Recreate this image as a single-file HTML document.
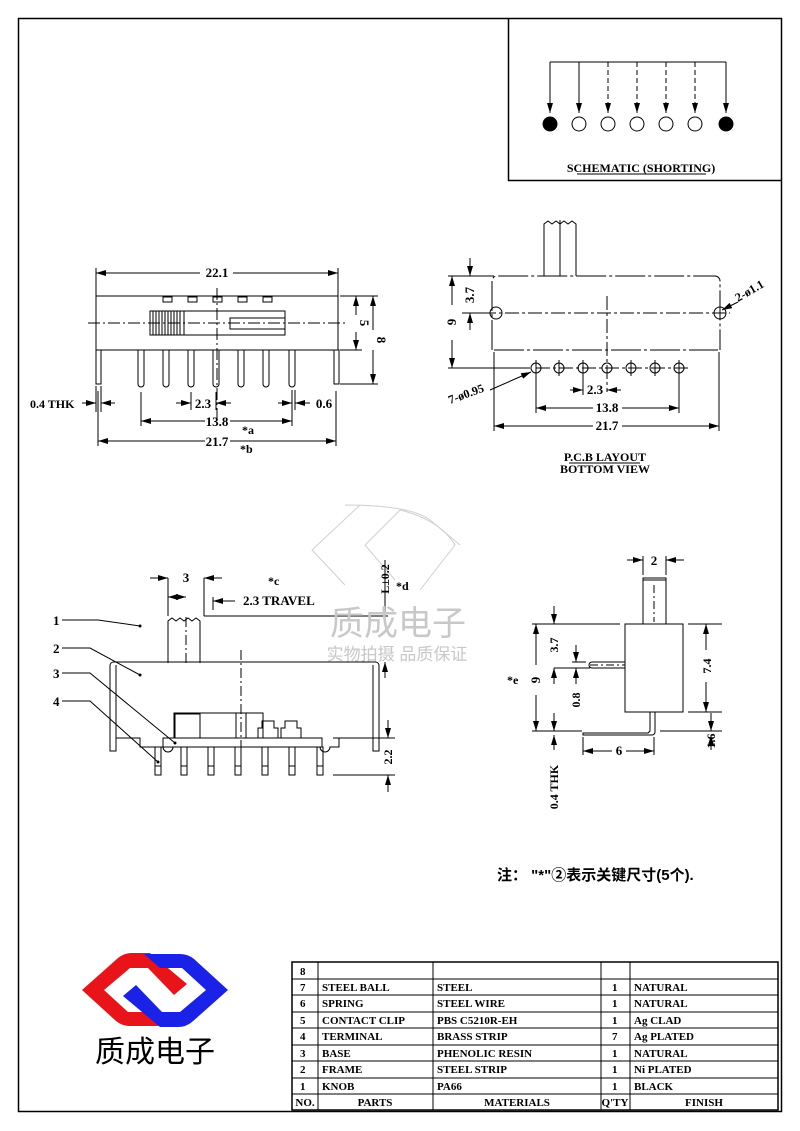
<!DOCTYPE html>
<html><head><meta charset="utf-8"><style>
html,body{margin:0;padding:0;background:#fff;}
svg{display:block;}
text{font-family:"Liberation Serif","Noto Serif CJK SC",serif;font-weight:bold;fill:#000;}
.c{font-family:"Liberation Sans","Noto Sans CJK SC",sans-serif;}
</style></head><body>
<svg width="800" height="1131" viewBox="0 0 800 1131" xmlns="http://www.w3.org/2000/svg">
<defs>
<marker id="a" viewBox="0 0 10 6" refX="10" refY="3" markerWidth="10" markerHeight="6" orient="auto-start-reverse" markerUnits="userSpaceOnUse"><path d="M0,0 L10,3 L0,6z" fill="#000"/></marker>
</defs>
<g fill="none" stroke="#000" stroke-width="1">
<rect x="18.5" y="18.5" width="763" height="1093" stroke-width="1.5"/>
<polyline points="508.5,18 508.5,180.5 782,180.5" stroke-width="1.5"/>
<line x1="550" y1="62" x2="726" y2="62"/>
<line x1="550" y1="62" x2="550" y2="113" marker-end="url(#a)"/>
<line x1="579" y1="62" x2="579" y2="113" marker-end="url(#a)"/>
<line x1="608" y1="62" x2="608" y2="113" stroke-dasharray="5,3" marker-end="url(#a)"/>
<line x1="637" y1="62" x2="637" y2="113" stroke-dasharray="5,3" marker-end="url(#a)"/>
<line x1="666" y1="62" x2="666" y2="113" stroke-dasharray="5,3" marker-end="url(#a)"/>
<line x1="695" y1="62" x2="695" y2="113" stroke-dasharray="5,3" marker-end="url(#a)"/>
<line x1="726" y1="62" x2="726" y2="113" marker-end="url(#a)"/>
<circle cx="550" cy="124" r="7" fill="#000"/>
<circle cx="579" cy="124" r="7"/><circle cx="608" cy="124" r="7"/><circle cx="637" cy="124" r="7"/><circle cx="666" cy="124" r="7"/><circle cx="695" cy="124" r="7"/>
<circle cx="726" cy="124" r="7" fill="#000"/>
<line x1="577" y1="174" x2="706" y2="174"/>

<line x1="96" y1="268" x2="96" y2="296"/><line x1="338" y1="268" x2="338" y2="296"/>
<line x1="96" y1="273" x2="200" y2="273" marker-start="url(#a)"/><line x1="233" y1="273" x2="338" y2="273" marker-end="url(#a)"/>
<rect x="96" y="296" width="242" height="54"/>
<rect x="163" y="297" width="9" height="5"/><rect x="188" y="297" width="9" height="5"/><rect x="213" y="297" width="9" height="5"/><rect x="238" y="297" width="9" height="5"/><rect x="263" y="297" width="9" height="5"/>
<rect x="150" y="311" width="135" height="24"/>
<path d="M153 311v24M156 311v24M159 311v24M162 311v24M165 311v24M168 311v24M171 311v24M174 311v24M177 311v24M180 311v24M184 311v24"/>
<rect x="230" y="318" width="55" height="11"/>
<line x1="88" y1="323" x2="346" y2="323" stroke-dasharray="12,3,2,3"/>
<line x1="217" y1="288" x2="217" y2="420" stroke-dasharray="12,3,2,3"/>
<rect x="96" y="350" width="5" height="34"/><rect x="334" y="350" width="5" height="34"/>
<path d="M138 350v34a3 3 0 0 0 6 0v-34"/><path d="M163 350v34a3 3 0 0 0 6 0v-34"/><path d="M188 350v34a3 3 0 0 0 6 0v-34"/><path d="M213 350v34a3 3 0 0 0 6 0v-34"/><path d="M238 350v34a3 3 0 0 0 6 0v-34"/><path d="M263 350v34a3 3 0 0 0 6 0v-34"/><path d="M289 350v34a3 3 0 0 0 6 0v-34"/>
<line x1="340" y1="296" x2="378" y2="296"/><line x1="340" y1="350" x2="362" y2="350"/><line x1="340" y1="384" x2="378" y2="384"/>
<line x1="356" y1="296" x2="356" y2="315" marker-start="url(#a)"/><line x1="356" y1="332" x2="356" y2="350" marker-end="url(#a)"/>
<line x1="373" y1="296" x2="373" y2="330" marker-start="url(#a)"/><line x1="373" y1="350" x2="373" y2="384" marker-end="url(#a)"/>
<line x1="96" y1="386" x2="96" y2="412"/><line x1="101" y1="386" x2="101" y2="412"/>
<line x1="82" y1="403" x2="96" y2="403" marker-end="url(#a)"/><line x1="115" y1="403" x2="101" y2="403" marker-end="url(#a)"/>
<line x1="141" y1="392" x2="141" y2="426"/><line x1="292" y1="390" x2="292" y2="426"/><line x1="216" y1="392" x2="216" y2="410"/><line x1="191" y1="392" x2="191" y2="410"/>
<line x1="176" y1="403" x2="191" y2="403" marker-end="url(#a)"/><line x1="231" y1="403" x2="216" y2="403" marker-end="url(#a)"/>
<line x1="295" y1="390" x2="295" y2="410"/>
<line x1="278" y1="403" x2="292" y2="403" marker-end="url(#a)"/><line x1="310" y1="403" x2="295" y2="403" marker-end="url(#a)"/>
<line x1="141" y1="421" x2="205" y2="421" marker-start="url(#a)"/><line x1="230" y1="421" x2="292" y2="421" marker-end="url(#a)"/>
<line x1="98" y1="391" x2="98" y2="446"/><line x1="336" y1="391" x2="336" y2="446"/>
<line x1="98" y1="441" x2="205" y2="441" marker-start="url(#a)"/><line x1="230" y1="441" x2="336" y2="441" marker-end="url(#a)"/>

<path d="M544 276V224l4 -3 4 3 4 -3 4 3 4 -3 4 3 4 -3 4 3V276"/>
<line x1="560" y1="220" x2="560" y2="276"/>
<path d="M492 350V281a5 5 0 0 1 5 -5H715a5 5 0 0 1 5 5V350" stroke-dasharray="30,3,3,3"/>
<line x1="494" y1="350" x2="718" y2="350" stroke-dasharray="30,3,3,3"/>
<line x1="482" y1="313" x2="730" y2="313" stroke-dasharray="14,3,3,3"/>
<line x1="607" y1="296" x2="607" y2="392" stroke-dasharray="14,3,3,3"/>
<circle cx="496" cy="313" r="6"/><circle cx="720" cy="313" r="6"/>
<line x1="448" y1="276" x2="494" y2="276"/><line x1="448" y1="368" x2="530" y2="368"/><line x1="462" y1="313" x2="490" y2="313"/>
<line x1="452" y1="276" x2="452" y2="305" marker-start="url(#a)"/><line x1="452" y1="340" x2="452" y2="368" marker-end="url(#a)"/>
<line x1="470" y1="258" x2="470" y2="276" marker-end="url(#a)"/><line x1="470" y1="330" x2="470" y2="313" marker-end="url(#a)"/>
<line x1="536" y1="368" x2="690" y2="368" stroke-dasharray="14,3,3,3"/>
<circle cx="536" cy="368" r="5"/><circle cx="559" cy="368" r="5"/><circle cx="583" cy="368" r="5"/><circle cx="607" cy="368" r="5"/><circle cx="631" cy="368" r="5"/><circle cx="655" cy="368" r="5"/><circle cx="679" cy="368" r="5"/>
<path d="M536 360v16M559 360v16M583 360v16M631 360v16M655 360v16M679 360v16"/>
<line x1="490" y1="390" x2="531" y2="372" marker-end="url(#a)"/>
<line x1="722" y1="310" x2="738" y2="302" marker-start="url(#a)"/>
<line x1="536" y1="376" x2="536" y2="413"/><line x1="679" y1="376" x2="679" y2="413"/><line x1="583" y1="376" x2="583" y2="395"/>
<line x1="570" y1="390" x2="583" y2="390" marker-end="url(#a)"/><line x1="621" y1="390" x2="607" y2="390" marker-end="url(#a)"/>
<line x1="536" y1="408" x2="593" y2="408" marker-start="url(#a)"/><line x1="622" y1="408" x2="679" y2="408" marker-end="url(#a)"/>
<line x1="494" y1="352" x2="494" y2="431"/><line x1="719" y1="352" x2="719" y2="431"/>
<line x1="494" y1="426" x2="593" y2="426" marker-start="url(#a)"/><line x1="622" y1="426" x2="719" y2="426" marker-end="url(#a)"/>
<line x1="569" y1="463" x2="640" y2="463"/>

<path d="M168 663V621l4 -3 4 3 4 -3 4 3 4 -3 4 3 4 -3 4 3V663"/>
<line x1="186" y1="617" x2="186" y2="664" stroke-dasharray="10,3,2,3"/>
<line x1="168" y1="578" x2="168" y2="616"/><line x1="204" y1="578" x2="204" y2="616"/>
<line x1="150" y1="578" x2="168" y2="578" marker-end="url(#a)"/><line x1="222" y1="578" x2="204" y2="578" marker-end="url(#a)"/>
<line x1="168" y1="597" x2="186" y2="597" marker-start="url(#a)" marker-end="url(#a)"/>
<line x1="213" y1="597" x2="213" y2="610"/><line x1="235" y1="601" x2="213" y2="601" marker-end="url(#a)"/>
<line x1="204" y1="616" x2="388" y2="616"/>
<path d="M110 665a4 4 0 0 1 4 -3H375a4 4 0 0 1 4 3V751h-6V665"/>
<path d="M110 665V751h6V665"/>
<line x1="116" y1="662" x2="373" y2="662"/>
<line x1="241" y1="650" x2="241" y2="775" stroke-dasharray="10,3,2,3"/>
<rect x="174" y="713" width="89" height="25"/><rect x="175" y="714" width="25" height="24"/>
<line x1="236" y1="713" x2="236" y2="738"/><line x1="246" y1="713" x2="246" y2="738"/>
<path d="M258 738v-10h4v-7h12v7h4v10M281 738v-10h4v-7h12v7h4v10"/>
<path d="M116 738H140v9H163a4 4 0 0 0 10 0H320a4 4 0 0 0 10 0H339v-9H373"/>
<rect x="163" y="738" width="159" height="9"/>
<rect x="155" y="747" width="6" height="28"/><rect x="181" y="747" width="6" height="28"/><rect x="208" y="747" width="6" height="28"/><rect x="235" y="747" width="6" height="28"/><rect x="262" y="747" width="6" height="28"/><rect x="289" y="747" width="6" height="28"/><rect x="317" y="747" width="6" height="28"/>
<path d="M155 766h6M181 766h6M208 766h6M235 766h6M262 766h6M289 766h6M317 766h6"/>
<line x1="385" y1="560" x2="385" y2="616" />
<line x1="385" y1="678" x2="385" y2="662" marker-end="url(#a)"/>
<line x1="333" y1="738" x2="395" y2="738"/><line x1="333" y1="775" x2="395" y2="775"/>
<line x1="388" y1="720" x2="388" y2="738" marker-end="url(#a)"/><line x1="388" y1="792" x2="388" y2="775" marker-end="url(#a)"/>
<path d="M62 620H98L140 626"/><circle cx="140" cy="626" r="1" fill="#000"/>
<path d="M62 648H90L140 675"/><circle cx="140" cy="675" r="1" fill="#000"/>
<path d="M62 673H90L175 743"/><circle cx="175" cy="743" r="1" fill="#000"/>
<path d="M62 701H90L158 762"/><circle cx="158" cy="762" r="1" fill="#000"/>

<rect x="643" y="578" width="23" height="46"/><line x1="643" y1="580" x2="666" y2="580"/>
<line x1="654" y1="585" x2="654" y2="622" stroke-dasharray="8,3,2,3"/>
<line x1="643" y1="556" x2="643" y2="575"/><line x1="666" y1="556" x2="666" y2="575"/>
<line x1="627" y1="560" x2="643" y2="560" marker-end="url(#a)"/><line x1="684" y1="560" x2="666" y2="560" marker-end="url(#a)"/>
<rect x="625" y="624" width="58" height="88"/>
<path d="M625 662H592a3 3 0 0 0 0 6H625"/>
<line x1="590" y1="665" x2="625" y2="665" stroke-dasharray="8,3,2,3"/>
<path d="M650 712V731l-2 2H583v2H652a3 3 0 0 0 3-3V712"/>
<line x1="532" y1="624" x2="620" y2="624"/><line x1="532" y1="731" x2="582" y2="731"/>
<line x1="536" y1="624" x2="536" y2="665" marker-start="url(#a)"/><line x1="536" y1="695" x2="536" y2="731" marker-end="url(#a)"/>
<line x1="554" y1="606" x2="554" y2="624" marker-end="url(#a)"/>
<line x1="572" y1="662" x2="586" y2="662"/><line x1="554" y1="668" x2="590" y2="668"/>
<line x1="554" y1="684" x2="554" y2="668" marker-end="url(#a)"/>
<line x1="576" y1="645" x2="576" y2="662" marker-end="url(#a)"/><line x1="576" y1="684" x2="576" y2="668" marker-end="url(#a)"/>
<line x1="554" y1="713" x2="554" y2="731" marker-end="url(#a)"/><line x1="554" y1="750" x2="554" y2="735" marker-end="url(#a)"/>
<line x1="688" y1="624" x2="722" y2="624"/><line x1="688" y1="712" x2="722" y2="712"/><line x1="660" y1="731" x2="722" y2="731"/>
<line x1="706" y1="624" x2="706" y2="650" marker-start="url(#a)"/><line x1="706" y1="682" x2="706" y2="712" marker-end="url(#a)"/>
<line x1="711" y1="713" x2="711" y2="731" marker-end="url(#a)"/><line x1="711" y1="750" x2="711" y2="735" marker-end="url(#a)"/>
<line x1="583" y1="737" x2="583" y2="755"/><line x1="654" y1="737" x2="654" y2="755"/>
<line x1="583" y1="751" x2="612" y2="751" marker-start="url(#a)"/><line x1="626" y1="751" x2="654" y2="751" marker-end="url(#a)"/>

<rect x="292" y="962" width="486" height="148" stroke-width="1.5"/>
<path d="M318 962V1110M433 962V1110M601 962V1110M630 962V1110"/>
<path d="M292 979H778M292 995H778M292 1012H778M292 1028H778M292 1045H778M292 1061H778M292 1078H778M292 1094H778"/>
</g>

<g opacity="0.35" fill="none" stroke="#777" stroke-width="1">
<path d="M360 505L312 550L345 585"/><path d="M345 505Q410 505 430 520L460 545"/><path d="M365 545L400 510Q440 520 455 545L420 590"/><path d="M365 545L395 580"/>
</g>
<text x="398" y="635" text-anchor="middle" class="c" style="font-size:34px;font-weight:normal;fill:#c8c8c8">质成电子</text>
<text x="397" y="660" text-anchor="middle" class="c" style="font-size:17px;font-weight:normal;fill:#c8c8c8">实物拍摄 品质保证</text>

<g style="font-size:12px">
<text x="641" y="172" text-anchor="middle">SCHEMATIC (SHORTING)</text>
<text x="217" y="277" text-anchor="middle" style="font-size:13px">22.1</text>
<text transform="translate(360,323) rotate(90)" text-anchor="middle" style="font-size:13px">5</text>
<text transform="translate(377,340) rotate(90)" text-anchor="middle" style="font-size:13px">8</text>
<text x="30" y="408">0.4 THK</text>
<text x="203" y="408" text-anchor="middle" style="font-size:13px">2.3</text>
<text x="324" y="408" text-anchor="middle" style="font-size:13px">0.6</text>
<text x="217" y="426" text-anchor="middle" style="font-size:13px">13.8</text>
<text x="242" y="434">*a</text>
<text x="217" y="446" text-anchor="middle" style="font-size:13px">21.7</text>
<text x="240" y="453">*b</text>
<text transform="translate(456,322) rotate(-90)" text-anchor="middle" style="font-size:13px">9</text>
<text transform="translate(474,295) rotate(-90)" text-anchor="middle" style="font-size:13px">3.7</text>
<text transform="translate(450,404) rotate(-20)" style="font-size:12px">7-ø0.95</text>
<text transform="translate(738,302) rotate(-30)" style="font-size:12px">2-ø1.1</text>
<text x="595" y="394" text-anchor="middle" style="font-size:13px">2.3</text>
<text x="607" y="412" text-anchor="middle" style="font-size:13px">13.8</text>
<text x="607" y="430" text-anchor="middle" style="font-size:13px">21.7</text>
<text x="605" y="461" text-anchor="middle">P.C.B LAYOUT</text>
<text x="605" y="473" text-anchor="middle">BOTTOM VIEW</text>
<text x="186" y="582" text-anchor="middle" style="font-size:13px">3</text>
<text x="268" y="585">*c</text>
<text x="243" y="605" style="font-size:13px">2.3 TRAVEL</text>
<text transform="translate(389,579) rotate(-90)" text-anchor="middle">L±0.2</text>
<text x="396" y="590">*d</text>
<text transform="translate(392,757) rotate(-90)" text-anchor="middle">2.2</text>
<text x="53" y="625" style="font-size:13px">1</text>
<text x="53" y="653" style="font-size:13px">2</text>
<text x="53" y="678" style="font-size:13px">3</text>
<text x="53" y="706" style="font-size:13px">4</text>
<text x="654" y="565" text-anchor="middle" style="font-size:13px">2</text>
<text transform="translate(558,645) rotate(-90)" text-anchor="middle">3.7</text>
<text transform="translate(540,680) rotate(-90)" text-anchor="middle" style="font-size:13px">9</text>
<text x="507" y="684">*e</text>
<text transform="translate(580,700) rotate(-90)" text-anchor="middle">0.8</text>
<text transform="translate(711,666) rotate(-90)" text-anchor="middle">7.4</text>
<text transform="translate(715,741) rotate(-90)" text-anchor="middle">1.6</text>
<text transform="translate(558,787) rotate(-90)" text-anchor="middle">0.4 THK</text>
<text x="619" y="755" text-anchor="middle" style="font-size:13px">6</text>
</g>
<text x="497" y="880" class="c" style="font-size:15px">注： "*"②表示关键尺寸(5个).</text>

<g style="font-size:11px">
<text x="300" y="975">8</text>
<text x="300" y="991">7</text><text x="322" y="991">STEEL BALL</text><text x="437" y="991">STEEL</text><text x="612" y="991">1</text><text x="634" y="991">NATURAL</text>
<text x="300" y="1007">6</text><text x="322" y="1007">SPRING</text><text x="437" y="1007">STEEL WIRE</text><text x="612" y="1007">1</text><text x="634" y="1007">NATURAL</text>
<text x="300" y="1024">5</text><text x="322" y="1024">CONTACT CLIP</text><text x="437" y="1024">PBS C5210R-EH</text><text x="612" y="1024">1</text><text x="634" y="1024">Ag CLAD</text>
<text x="300" y="1040">4</text><text x="322" y="1040">TERMINAL</text><text x="437" y="1040">BRASS STRIP</text><text x="612" y="1040">7</text><text x="634" y="1040">Ag PLATED</text>
<text x="300" y="1057">3</text><text x="322" y="1057">BASE</text><text x="437" y="1057">PHENOLIC RESIN</text><text x="612" y="1057">1</text><text x="634" y="1057">NATURAL</text>
<text x="300" y="1073">2</text><text x="322" y="1073">FRAME</text><text x="437" y="1073">STEEL STRIP</text><text x="612" y="1073">1</text><text x="634" y="1073">Ni PLATED</text>
<text x="300" y="1090">1</text><text x="322" y="1090">KNOB</text><text x="437" y="1090">PA66</text><text x="612" y="1090">1</text><text x="634" y="1090">BLACK</text>
<text x="305" y="1106" text-anchor="middle">NO.</text><text x="375" y="1106" text-anchor="middle">PARTS</text><text x="517" y="1106" text-anchor="middle">MATERIALS</text><text x="615" y="1106" text-anchor="middle">Q'TY</text><text x="704" y="1106" text-anchor="middle">FINISH</text>
</g>

<g id="red">
<path d="M82 990L118 958Q124 953 132 953H150L187 984L174 995L148 968H130L104 990L128 1012H150L166 1026H130Q122 1026 116 1021Z" fill="#e8141a"/>
</g>
<path d="M82 990L118 958Q124 953 132 953H150L187 984L174 995L148 968H130L104 990L128 1012H150L166 1026H130Q122 1026 116 1021Z" fill="#1a22e8" transform="rotate(180 155 990)"/>
<text x="155" y="1062" text-anchor="middle" class="c" style="font-size:30px;font-weight:normal">质成电子</text>
</svg>
</body></html>
